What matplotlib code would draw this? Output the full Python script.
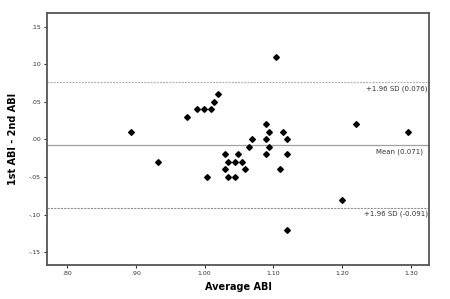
import numpy as np
import matplotlib.pyplot as plt

# Bland-Altman data: average ABI vs difference of the two measurements
avg_abi = [0.893, 0.933, 0.974, 0.989, 0.999, 1.009, 1.014, 1.019, 1.004,
           1.029, 1.034, 1.029, 1.034, 1.044, 1.044, 1.049, 1.054, 1.059,
           1.064, 1.069, 1.089, 1.089, 1.094, 1.094, 1.089, 1.110, 1.114,
           1.120, 1.120, 1.120, 1.104, 1.200, 1.220, 1.295]
diff_abi = [0.01, -0.03, 0.03, 0.04, 0.04, 0.04, 0.05, 0.06, -0.05,
            -0.02, -0.03, -0.04, -0.05, -0.05, -0.03, -0.02, -0.03, -0.04,
            -0.01, 0.00, 0.02, 0.00, 0.01, -0.01, -0.02, -0.04, 0.01,
            0.00, -0.02, -0.12, 0.11, -0.08, 0.02, 0.01]

upper_loa = 0.076
mean_diff = -0.0075
lower_loa = -0.091

x_ticks = [0.80, 0.90, 1.00, 1.10, 1.20, 1.30]
x_ticklabels = [".80", ".90", "1.00", "1.10", "1.20", "1.30"]
y_ticks = [0.15, 0.10, 0.05, 0.00, -0.05, -0.10, -0.15]
y_ticklabels = [".15", ".10", ".05", ".00", "-.05", "-.10", "-.15"]

fig = plt.figure(figsize=(4.5, 2.99), dpi=100)
ax = fig.add_axes([0.1044, 0.1137, 0.8489, 0.8428])

ax.axhline(upper_loa, color="#b0b0b0", lw=0.9, ls=(0, (1.5, 1)))
ax.axhline(mean_diff, color="#a0a0a0", lw=0.9)
ax.axhline(lower_loa, color="#909090", lw=0.8, ls=(0, (2, 1)))

ax.plot(avg_abi, diff_abi, "D", color="black", ms=2.9, mec="black")

ax.set_xlim(0.771, 1.326)
ax.set_ylim(-0.167, 0.168)
ax.set_xticks(x_ticks)
ax.set_xticklabels(x_ticklabels)
ax.set_yticks(y_ticks)
ax.set_yticklabels(y_ticklabels)
ax.tick_params(labelsize=4.5, length=2.5, width=0.8, colors="#333333", pad=2)

for s in ax.spines.values():
    s.set_color("#555555")
    s.set_linewidth(1.3)

ax.text(1.324, upper_loa - 0.004, "+1.96 SD (0.076)", ha="right", va="top",
        fontsize=5, color="#333333")
ax.text(1.318, mean_diff - 0.004, "Mean (0.071)", ha="right", va="top",
        fontsize=5, color="#333333")
ax.text(1.324, lower_loa - 0.004, "+1.96 SD (-0.091)", ha="right", va="top",
        fontsize=5, color="#333333")

ax.set_xlabel("Average ABI", fontsize=7, fontweight="bold", labelpad=4)
ax.set_ylabel("1st ABI - 2nd ABI", fontsize=7, fontweight="bold", labelpad=8)

plt.savefig("out.png", dpi=100)
